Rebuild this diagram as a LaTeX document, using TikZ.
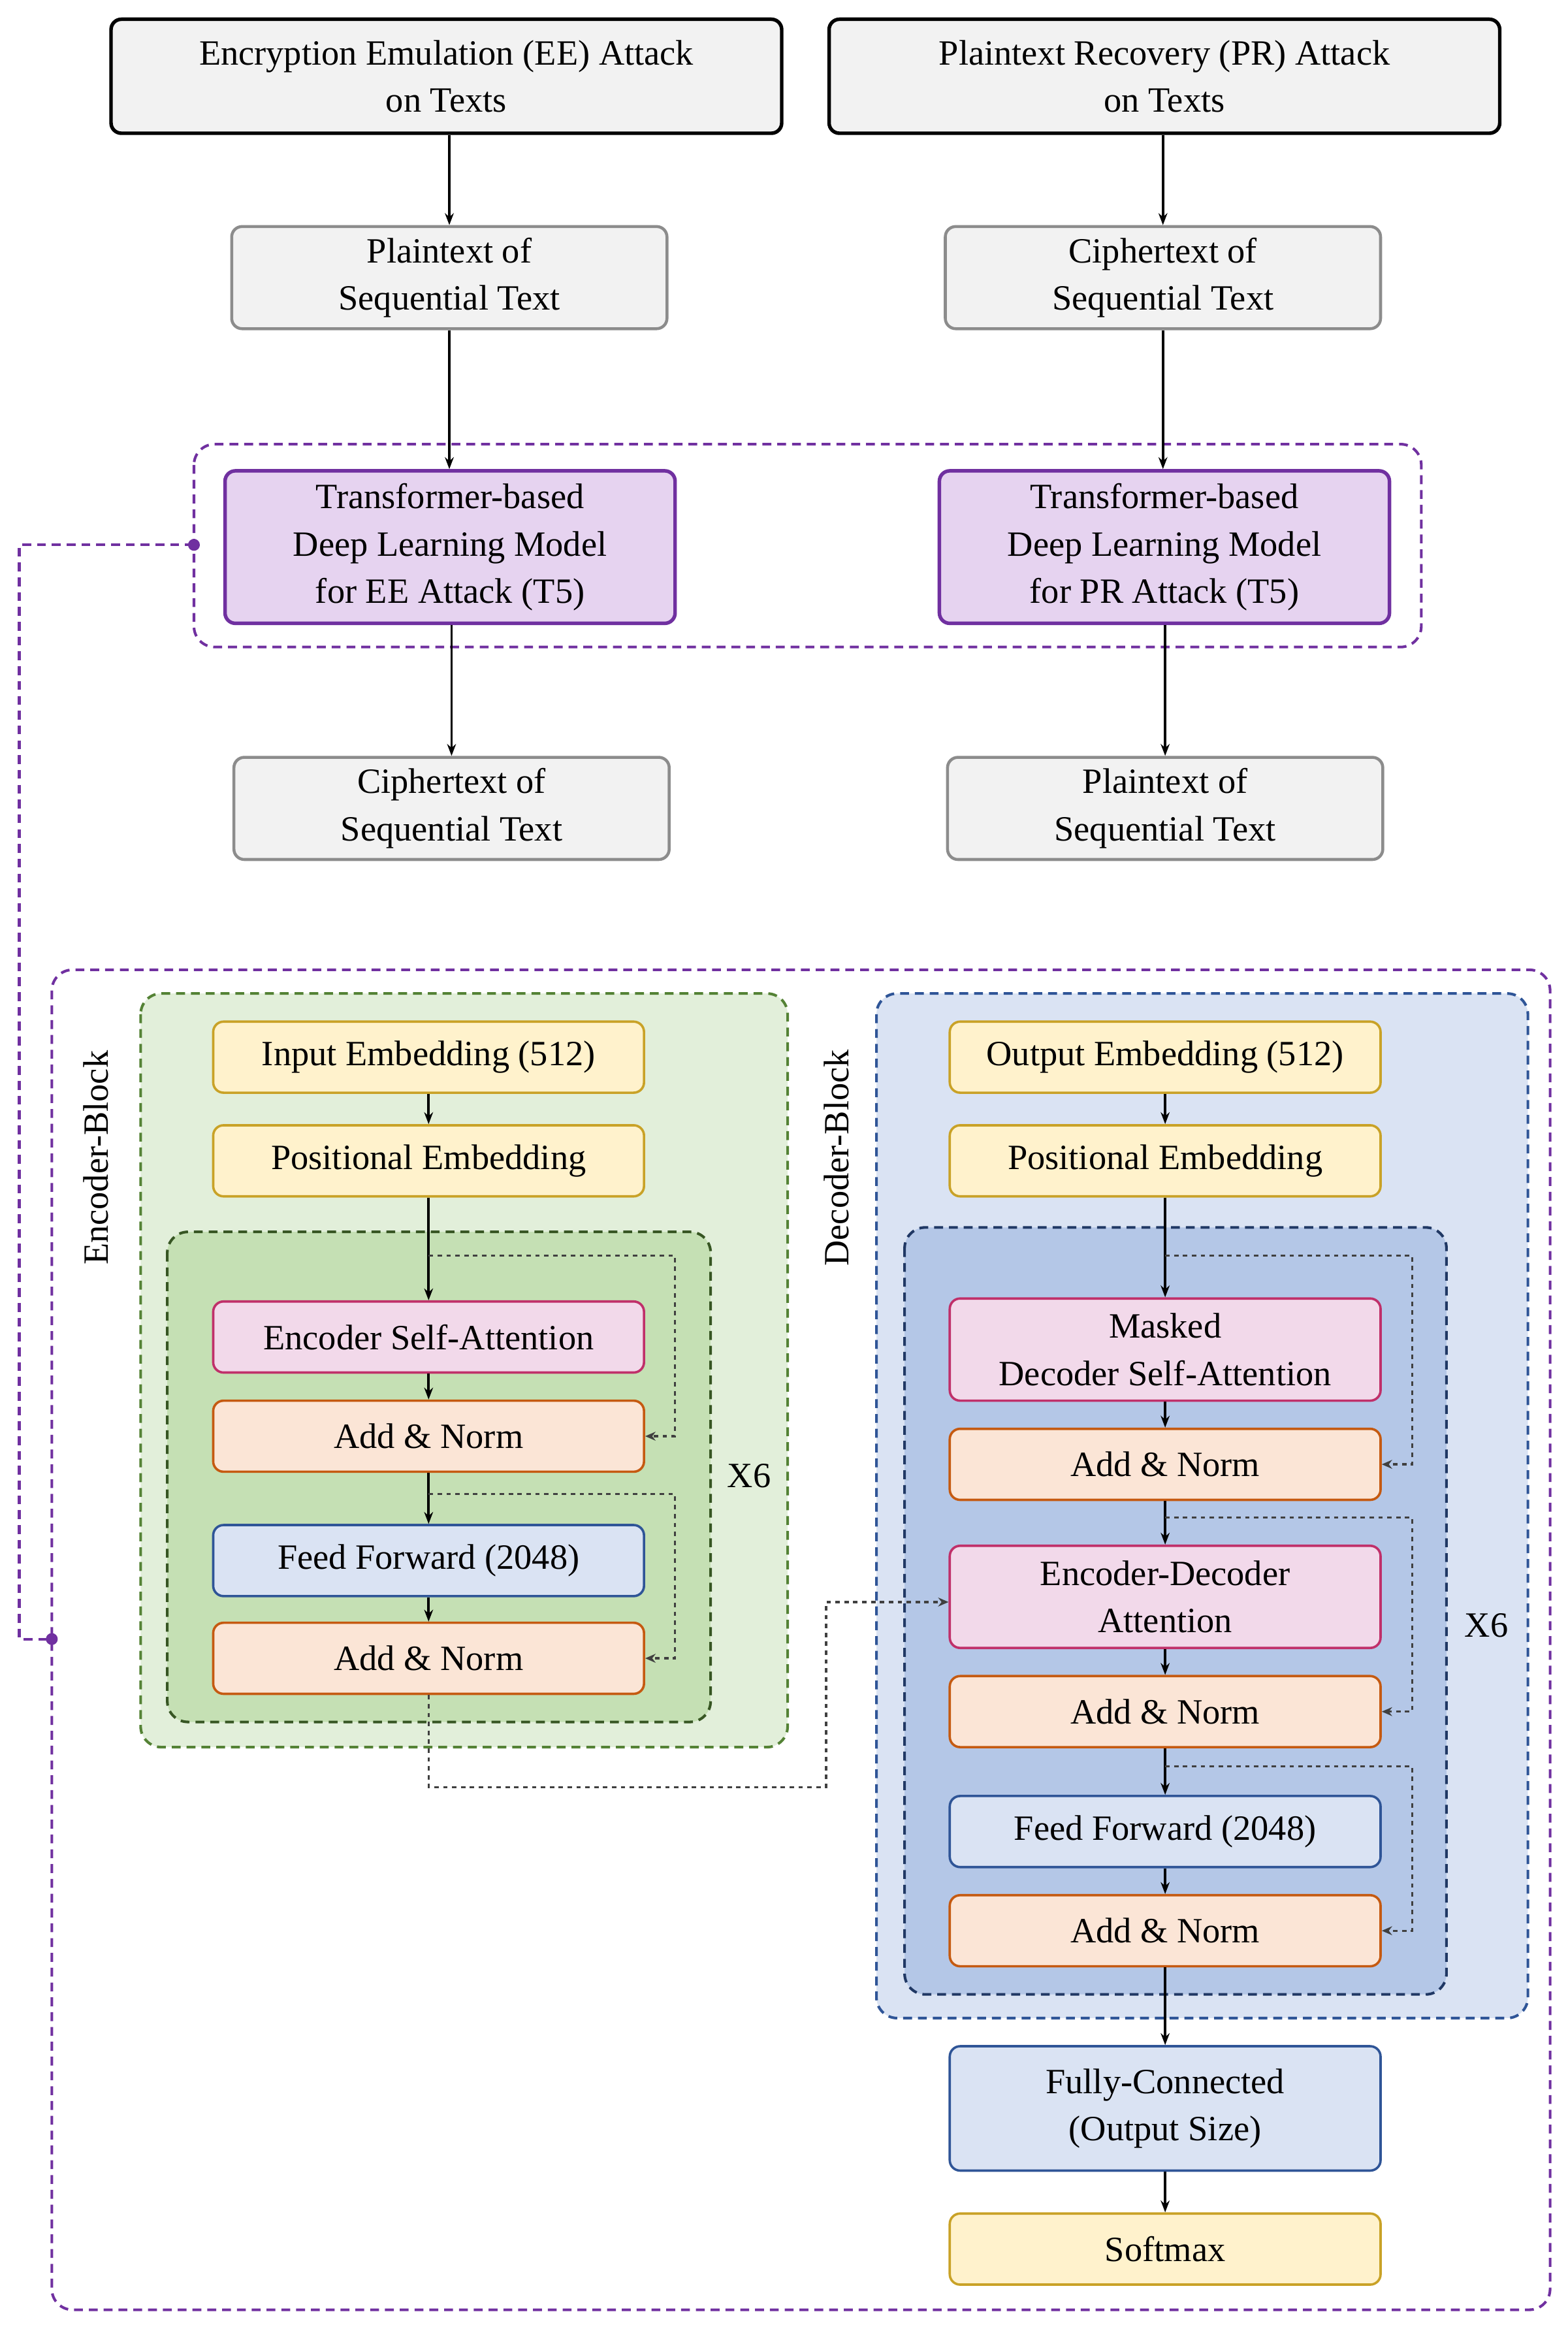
\documentclass[tikz,border=0pt]{standalone}
\usepackage{fontspec}
\setmainfont{Liberation Serif}
\usetikzlibrary{arrows.meta}
\definecolor{pur}{HTML}{7030A0}
\definecolor{purf}{HTML}{E6D3F0}
\definecolor{grf}{HTML}{F2F2F2}
\definecolor{grb}{HTML}{8C8C8C}
\definecolor{gnf}{HTML}{E2EFDA}
\definecolor{gnb}{HTML}{548235}
\definecolor{gnf2}{HTML}{C5E0B4}
\definecolor{gnb2}{HTML}{375623}
\definecolor{blf}{HTML}{DAE3F3}
\definecolor{blb}{HTML}{2F5597}
\definecolor{blf2}{HTML}{B4C7E7}
\definecolor{blb2}{HTML}{203864}
\definecolor{yef}{HTML}{FFF2CC}
\definecolor{yeb}{HTML}{C9A227}
\definecolor{pkf}{HTML}{F2D9EA}
\definecolor{pkb}{HTML}{C0306A}
\definecolor{orf}{HTML}{FBE5D6}
\definecolor{orb}{HTML}{C55A11}
\tikzset{
 bx/.style={draw, rounded corners=7pt, line width=1.6pt, align=center, inner sep=0pt, font=\fontsize{24}{32}\selectfont},
 top/.style={bx, fill=grf, draw=black, line width=2.4pt, minimum width=453pt, minimum height=77pt},
 gr/.style={bx, fill=grf, draw=grb, line width=2pt, minimum width=294pt, minimum height=69pt},
 t5/.style={bx, fill=purf, draw=pur, line width=2.4pt, minimum width=304pt, minimum height=103pt},
 ye/.style={bx, fill=yef, draw=yeb, minimum width=291pt, minimum height=48pt},
 pk/.style={bx, fill=pkf, draw=pkb},
 orr/.style={bx, fill=orf, draw=orb, minimum width=291pt, minimum height=48pt},
 bl/.style={bx, fill=blf, draw=blb},
 ar/.style={-{Stealth[length=8pt,width=6pt]}, line width=1.6pt, black},
 res/.style={-{Stealth[length=7pt,width=6pt]}, line width=1.5pt, dashed, black!75},
 dsh/.style={dashed, rounded corners=14pt, line width=1.8pt, dash pattern=on 6pt off 4pt},
 lb/.style={font=\fontsize{24}{28}\selectfont}
}
\begin{document}
\begin{tikzpicture}[x=1pt,y=-1pt]
\useasboundingbox (0,0) rectangle (1059,1573);
% top
\node[top] (ee) at (301.5,51.5) {Encryption Emulation (EE) Attack\\on Texts};
\node[top] (pr) at (786.5,51.5) {Plaintext Recovery (PR) Attack\\on Texts};
\node[gr] (p1) at (303.5,187.5) {Plaintext of\\Sequential Text};
\node[gr] (c1) at (785.5,187.5) {Ciphertext of\\Sequential Text};
\draw[dsh, draw=pur] (131,300) rectangle (960,437);
\coordinate (pl) at (131,368);
\node[t5] (t1) at (304,369.5) {Transformer-based\\Deep Learning Model\\for EE Attack (T5)};
\node[t5] (t2) at (786.5,369.5) {Transformer-based\\Deep Learning Model\\for PR Attack (T5)};
\node[gr] (c2) at (305,546) {Ciphertext of\\Sequential Text};
\node[gr] (p2) at (787,546) {Plaintext of\\Sequential Text};
\draw[ar] (ee.south-|p1) -- (p1);
\draw[ar] (pr.south-|c1) -- (c1);
\draw[ar] (p1) -- (t1.north-|p1);
\draw[ar] (c1) -- (t2.north-|c1);
\draw[ar] (t1.south-|c2) -- (c2);
\draw[ar] (t2.south-|p2) -- (p2);
% big box
\draw[dsh, draw=pur] (35,655) rectangle (1047,1560);
\coordinate (pr2) at (35,1107);
\draw[pur, line width=1.8pt, dash pattern=on 6pt off 4pt] (pl) -- (13,368) -- (13,1107) -- (pr2);
\fill[pur] (pl) circle (4pt) (pr2) circle (4pt);
% encoder
\draw[dsh, draw=gnb, fill=gnf] (95,671) rectangle (532,1180);
\node[lb, rotate=90] (eb) at (65,782) {Encoder-Block};
\node[ye] (ie) at (289.5,714) {Input Embedding (512)};
\node[ye] (pe) at (289.5,784) {Positional Embedding};
\draw[dsh, draw=gnb2, fill=gnf2] (113,832) rectangle (480,1163);
\node[pk, minimum width=291pt, minimum height=48pt] (esa) at (289.5,903) {Encoder Self-Attention};
\node[orr] (an1) at (289.5,970) {Add \& Norm};
\node[bl, minimum width=291pt, minimum height=48pt] (ff1) at (289.5,1054) {Feed Forward (2048)};
\node[orr] (an2) at (289.5,1120) {Add \& Norm};
\node[lb] (x1) at (506,997) {X6};
\draw[ar] (ie) -- (pe);
\draw[ar] (pe) -- (esa);
\draw[ar] (esa) -- (an1);
\draw[ar] (an1) -- (ff1);
\draw[ar] (ff1) -- (an2);
\draw[res] (289.5,848) -- (456,848) -- (456,970) -- (an1.east);
\draw[res] (289.5,1009) -- (456,1009) -- (456,1120) -- (an2.east);
% decoder
\draw[dsh, draw=blb, fill=blf] (592,671) rectangle (1032,1363);
\node[lb, rotate=90] (db) at (565,782) {Decoder-Block};
\node[ye] (oe) at (787,714) {Output Embedding (512)};
\node[ye] (pe2) at (787,784) {Positional Embedding};
\draw[dsh, draw=blb2, fill=blf2] (611,829) rectangle (977,1347);
\node[pk, minimum width=291pt, minimum height=69pt] (mds) at (787,911.5) {Masked\\Decoder Self-Attention};
\node[orr] (an3) at (787,989) {Add \& Norm};
\node[pk, minimum width=291pt, minimum height=69pt] (eda) at (787,1078.5) {Encoder-Decoder\\Attention};
\node[orr] (an4) at (787,1156) {Add \& Norm};
\node[bl, minimum width=291pt, minimum height=48pt] (ff2) at (787,1237) {Feed Forward (2048)};
\node[orr] (an5) at (787,1304) {Add \& Norm};
\node[lb] (x2) at (1004,1098) {X6};
\node[bl, minimum width=291pt, minimum height=84pt] (fc) at (787,1424) {Fully-Connected\\(Output Size)};
\node[ye, minimum height=48pt] (sm) at (787,1519) {Softmax};
\draw[ar] (oe) -- (pe2);
\draw[ar] (pe2) -- (mds);
\draw[ar] (mds) -- (an3);
\draw[ar] (an3) -- (eda);
\draw[ar] (eda) -- (an4);
\draw[ar] (an4) -- (ff2);
\draw[ar] (ff2) -- (an5);
\draw[ar] (an5) -- (fc);
\draw[ar] (fc) -- (sm);
\draw[res] (787,848) -- (954,848) -- (954,989) -- (an3.east);
\draw[res] (787,1025) -- (954,1025) -- (954,1156) -- (an4.east);
\draw[res] (787,1193) -- (954,1193) -- (954,1304) -- (an5.east);
\draw[res] (an2.south) -- (289.5,1207) -- (558,1207) -- (558,1082) -- (eda.west|-0,1082);
\end{tikzpicture}
\end{document}
